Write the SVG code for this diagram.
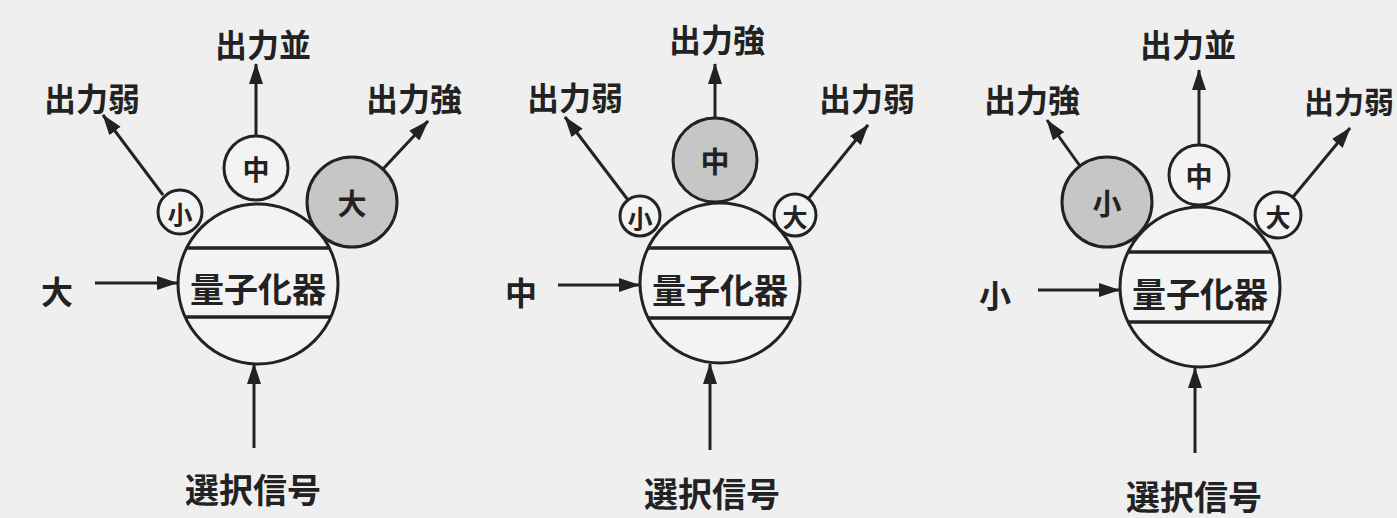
<svg xmlns="http://www.w3.org/2000/svg" width="1397" height="518" viewBox="0 0 1397 518">
<style>
.c{fill:#f3f3f3;stroke:#222;stroke-width:3}
.g{fill:#c6c6c6;stroke:#222;stroke-width:3}
.ch{stroke:#222;stroke-width:3.5}
.a{stroke:#222;stroke-width:3;fill:none;marker-end:url(#ah)}
text{font-family:"Noto Sans CJK JP","Noto Sans CJK SC",sans-serif;fill:#222;text-anchor:middle;dominant-baseline:central;font-weight:600}
.l{font-size:32px}
.q{font-size:34px}
.s{font-size:25px}
.m{font-size:27px}
.b{font-size:29px}
</style>
<defs>
<marker id="ah" markerUnits="userSpaceOnUse" markerWidth="22" markerHeight="16" refX="20" refY="7" orient="auto">
<path d="M0,0 L21,7 L0,14 Z" fill="#222"/>
</marker>
</defs>
<rect width="1397" height="518" fill="#efefef"/>
<g id="connectors">
<line class="a" x1="163" y1="195" x2="103" y2="115"/>
<line class="a" x1="256" y1="136" x2="256" y2="64"/>
<line class="a" x1="383" y1="169" x2="428" y2="121"/>
<line class="a" x1="95" y1="283" x2="177" y2="283"/>
<line class="a" x1="254" y1="448" x2="254" y2="364"/>
<line class="a" x1="628" y1="200" x2="565" y2="117"/>
<line class="a" x1="715" y1="118" x2="715" y2="64"/>
<line class="a" x1="808" y1="199" x2="868" y2="125"/>
<line class="a" x1="558" y1="285" x2="639" y2="285"/>
<line class="a" x1="710" y1="450" x2="710" y2="364"/>
<line class="a" x1="1080" y1="166" x2="1047" y2="120"/>
<line class="a" x1="1199" y1="145" x2="1199" y2="70"/>
<line class="a" x1="1293" y1="197" x2="1350" y2="128"/>
<line class="a" x1="1038" y1="290" x2="1119" y2="290"/>
<line class="a" x1="1195" y1="453" x2="1195" y2="368"/>
</g>
<g id="q1">
<circle class="c" cx="258" cy="284" r="80"/>
<line class="ch" x1="187" y1="248" x2="329" y2="248"/>
<line class="ch" x1="185" y1="317" x2="331" y2="317"/>
<text class="q" x="258" y="287">量子化器</text>
</g>
<g id="q1-small"><circle class="c" cx="180" cy="212" r="22"/><text class="s" x="180" y="213">小</text></g>
<g id="q1-mid"><circle class="c" cx="256" cy="168" r="32"/><text class="m" x="256" y="168">中</text></g>
<g id="q1-large"><circle class="g" cx="352" cy="202" r="45"/><text class="b" x="352" y="202">大</text></g>
<g id="q1-labels">
<text class="l" x="92" y="97">出力弱</text>
<text class="l" x="263" y="43">出力並</text>
<text class="l" x="414" y="97">出力強</text>
<text class="l" x="57" y="290">大</text>
<text class="q" x="253" y="488">選択信号</text>
</g>
<g id="q2">
<circle class="c" cx="720" cy="283" r="80"/>
<line class="ch" x1="648" y1="248" x2="792" y2="248"/>
<line class="ch" x1="648" y1="318" x2="792" y2="318"/>
<text class="q" x="720" y="288">量子化器</text>
</g>
<g id="q2-small"><circle class="c" cx="640" cy="216" r="20"/><text class="s" x="640" y="217">小</text></g>
<g id="q2-mid"><circle class="g" cx="715" cy="160" r="42"/><text class="b" x="715" y="160">中</text></g>
<g id="q2-large"><circle class="c" cx="795" cy="215" r="21"/><text class="s" x="795" y="216">大</text></g>
<g id="q2-labels">
<text class="l" x="575" y="96">出力弱</text>
<text class="l" x="717" y="38">出力強</text>
<text class="l" x="867" y="97">出力弱</text>
<text class="l" x="521" y="291">中</text>
<text class="q" x="712" y="492">選択信号</text>
</g>
<g id="q3">
<circle class="c" cx="1200" cy="287" r="80"/>
<line class="ch" x1="1128" y1="252" x2="1272" y2="252"/>
<line class="ch" x1="1128" y1="322" x2="1272" y2="322"/>
<text class="q" x="1200" y="292">量子化器</text>
</g>
<g id="q3-small"><circle class="g" cx="1107" cy="202" r="45"/><text class="b" x="1107" y="202">小</text></g>
<g id="q3-mid"><circle class="c" cx="1199" cy="175" r="30"/><text class="m" x="1199" y="175">中</text></g>
<g id="q3-large"><circle class="c" cx="1278" cy="215" r="23"/><text class="s" x="1278" y="216">大</text></g>
<g id="q3-labels">
<text class="l" x="1032" y="98">出力強</text>
<text class="l" x="1188" y="43">出力並</text>
<text class="l" x="1349" y="100" style="font-size:30px">出力弱</text>
<text class="l" x="995" y="294">小</text>
<text class="q" x="1194" y="495">選択信号</text>
</g>
</svg>
